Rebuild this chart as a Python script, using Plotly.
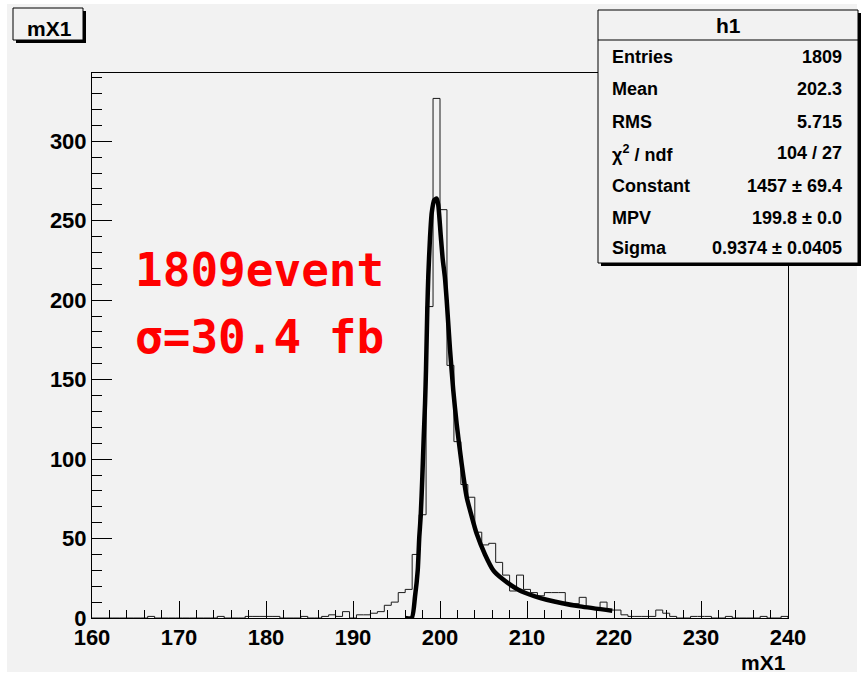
import plotly.graph_objects as go

# h1: 100 bins between 160 and 240 (bin width 0.8)
x_min, x_max, n_bins = 160, 240, 100
counts = [
    0, 0, 0, 0, 0, 0, 0, 0, 1, 0,            # 160.0 - 167.2
    0, 0, 0, 0, 0, 0, 0, 0, 1, 0,            # 168.0 - 175.2
    0, 0, 1, 1, 1, 1, 1, 0, 0, 0,            # 176.0 - 183.2
    1, 0, 0, 1, 2, 1, 4, 0, 2, 2,            # 184.0 - 191.2
    3, 4, 8, 10, 16, 18, 40, 65, 196, 327,   # 192.0 - 199.2
    257, 159, 111, 84, 76, 54, 46, 47, 35, 27,  # 200.0 - 207.2
    17, 27, 18, 16, 14, 16, 16, 16, 9, 9,    # 208.0 - 215.2
    13, 6, 6, 10, 5, 5, 2, 1, 1, 1,          # 216.0 - 223.2
    1, 5, 3, 1, 0, 0, 1, 1, 1, 0,            # 224.0 - 231.2
    0, 1, 0, 0, 0, 0, 1, 0, 0, 1,            # 232.0 - 239.2
]

# landau fit curve
fit_x = [196.0, 196.75, 197.13, 197.44, 197.62, 197.78, 197.97, 198.13, 198.28,
         198.39, 198.54, 198.66, 198.85, 199.05, 199.34, 199.62, 199.80, 200.08,
         200.31, 200.57, 200.77, 201.15, 201.53, 201.92, 202.49, 203.07, 203.64,
         204.22, 205.17, 206.13, 207.09, 209.0, 210.92, 212.26, 216.09, 219.8]
fit_y = [0, 0, 13.6, 30, 51, 64, 89, 114, 135,
         156, 194, 216, 239, 255, 263, 264, 260, 241,
         226, 214, 200, 169, 143, 122, 97, 76, 64,
         53, 40, 30, 25, 17.8, 13.6, 11.5, 7.3, 4.6]

stat_labels = ["Entries", "Mean", "RMS", "χ<sup>2</sup> / ndf", "Constant", "MPV", "Sigma"]
stat_values = ["1809", "202.3", "5.715", "104 / 27", "1457 ± 69.4", "199.8 ± 0.0", "0.9374 ± 0.0405"]
info_lines = ["1809event", "σ=30.4 fb"]

W, H = 863, 682
L, R, T, B = 92, 788, 73, 618   # frame in pixels
BG = "#f2f2f2"
SANS = "Liberation Sans"


def px(p):
    return (p - L) / (R - L)


def py(p):
    return (B - p) / (B - T)


width = (x_max - x_min) / n_bins
edges = [x_min + i * width for i in range(n_bins + 1)]
hx = [x_min] + edges + [x_max]
hy = [0] + counts + [counts[-1], 0]

fig = go.Figure()
fig.add_trace(go.Scatter(x=hx, y=hy, mode="lines", line=dict(color="#1a1a1a", width=1, shape="hv"),
                         hoverinfo="skip", showlegend=False))
fig.add_trace(go.Scatter(x=fit_x, y=fit_y, mode="lines",
                         line=dict(color="black", width=4.5, shape="spline", smoothing=0.6),
                         showlegend=False))

shapes = [
    # canvas
    dict(type="rect", xref="paper", yref="paper", layer="below", line_width=0, fillcolor=BG,
         x0=px(7), x1=px(857), y0=py(4), y1=py(672)),
    # title box + shadow
    dict(type="rect", xref="paper", yref="paper", line_width=0, fillcolor="black",
         x0=px(16), x1=px(86), y0=py(11), y1=py(43)),
    dict(type="rect", xref="paper", yref="paper", line=dict(color="black", width=1), fillcolor=BG,
         x0=px(13), x1=px(83), y0=py(8), y1=py(40)),
    # stats box + shadow
    dict(type="rect", xref="paper", yref="paper", line_width=0, fillcolor="black",
         x0=px(601), x1=px(861), y0=py(13), y1=py(266)),
    dict(type="rect", xref="paper", yref="paper", line=dict(color="black", width=1), fillcolor=BG,
         x0=px(598), x1=px(858), y0=py(10), y1=py(263)),
    dict(type="line", xref="paper", yref="paper", line=dict(color="black", width=1),
         x0=px(598), x1=px(858), y0=py(40), y1=py(40)),
]


def note(text, x, y, xanchor, font):
    return dict(text=text, x=px(x), y=py(y), xref="paper", yref="paper", showarrow=False,
                xanchor=xanchor, yanchor="middle", font=font)


bold = dict(family=SANS, size=21, weight="bold", color="black")
stat_font = dict(family=SANS, size=18, weight="bold", color="black")
red_font = dict(family="DejaVu Sans Mono", size=46, weight="bold", color="#ff0000")

ann = [note("mX1", 49, 28, "center", bold), note("h1", 728, 26, "center", bold)]
row_y = [57, 89, 122, 153, 186, 218, 248]
for lab, val, yy in zip(stat_labels, stat_values, row_y):
    ann.append(note(lab, 610, yy, "left", stat_font))
    ann.append(note(val, 844, yy, "right", stat_font))
for line, yy in zip(info_lines, [270, 337]):
    ann.append(note(line, 133, yy, "left", red_font))
ann.append(note("mX1", R, 662, "right", bold))

tickfont = dict(family=SANS, size=22, weight="bold", color="black")
fig.update_layout(
    width=W, height=H, autosize=False,
    margin=dict(l=L, r=W - R, t=T, b=H - B, pad=0),
    paper_bgcolor="white", plot_bgcolor=BG,
    shapes=shapes, annotations=ann,
    xaxis=dict(range=[x_min, x_max], tick0=160, dtick=10, ticks="inside", ticklen=17,
               tickcolor="black", showline=True, mirror=True, linecolor="black", linewidth=1,
               showgrid=False, zeroline=False, tickfont=tickfont,
               minor=dict(dtick=2, ticks="inside", ticklen=8, tickcolor="black", showgrid=False)),
    yaxis=dict(range=[0, 343], tick0=0, dtick=50, ticks="inside", ticklen=20,
               tickcolor="black", showline=True, mirror=True, linecolor="black", linewidth=1,
               showgrid=False, zeroline=False, tickfont=tickfont,
               minor=dict(dtick=10, ticks="inside", ticklen=10, tickcolor="black", showgrid=False)),
)

# drop the browser's default body margin so the canvas starts at the window corner
fig.write_html("out.html", config={"displayModeBar": False},
               post_script="document.body.style.margin='0px';")
